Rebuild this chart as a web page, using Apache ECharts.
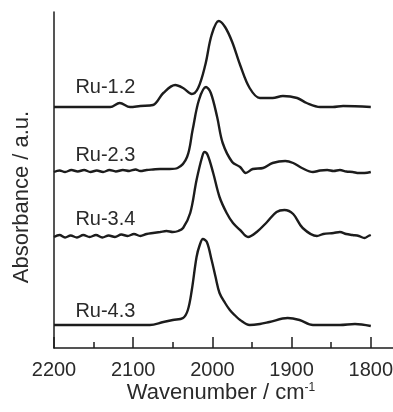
<!DOCTYPE html>
<html>
<head>
<meta charset="utf-8">
<script src="https://cdn.jsdelivr.net/npm/echarts@6/dist/echarts.min.js"></script>
<style>
  html, body { margin: 0; padding: 0; background: #fff; }
  #chart { width: 393px; height: 412px; }
</style>
</head>
<body>
<div id="chart"></div>
<script>
// spectra: [wavenumber, absorbance (a.u., stacked)]
const ru12 = [
  [2200, 241], [2155, 241], [2129, 241], [2117, 245], [2104, 241], [2091, 242],
  [2075, 243], [2062, 255], [2047, 263], [2037, 260], [2026, 254], [2018, 260],
  [2009, 283], [2001, 313], [1992, 327], [1984, 321], [1975, 306], [1965, 283],
  [1953, 260], [1940, 250], [1924, 250], [1911, 252], [1893, 250], [1881, 245],
  [1864, 241], [1848, 241], [1835, 242], [1800, 241]
];
const ru23 = [
  [2200, 176], [2193, 177.5], [2186, 176], [2178, 178], [2170, 176.5], [2162, 178],
  [2154, 176], [2146, 177.5], [2138, 176], [2130, 178], [2122, 176.5], [2113, 178],
  [2105, 177], [2097, 178.5], [2091, 177], [2083, 178], [2075, 178.5], [2066, 179],
  [2054, 179], [2044, 180], [2032, 191], [2025, 218], [2017, 248], [2008, 261],
  [2002, 255], [1994, 231], [1987, 205], [1975, 186], [1965, 181], [1958, 175],
  [1949, 179], [1936, 180], [1924, 185], [1908, 187], [1898, 185], [1887, 180],
  [1873, 176], [1864, 177.5], [1855, 178], [1847, 177], [1839, 178], [1831, 176.5],
  [1823, 176], [1815, 175], [1808, 175], [1800, 176]
];
const ru34 = [
  [2200, 111], [2193, 113], [2186, 110.5], [2179, 112.5], [2171, 110.5], [2163, 113],
  [2155, 111], [2147, 113], [2139, 110.5], [2131, 112.5], [2123, 111], [2115, 113.5],
  [2107, 112], [2099, 114], [2091, 112], [2083, 114], [2075, 115], [2066, 116],
  [2058, 117], [2050, 116], [2043, 117], [2037, 120], [2028, 135], [2020, 168],
  [2013, 191], [2010, 196], [2006, 193], [1999, 175], [1991, 151], [1982, 135],
  [1974, 125], [1965, 118], [1955, 111], [1944, 116], [1931, 126], [1919, 136],
  [1909, 138], [1898, 134], [1886, 120], [1868, 112], [1860, 114], [1847, 115],
  [1839, 116], [1831, 114], [1823, 113], [1815, 112], [1808, 110], [1803, 112],
  [1800, 113]
];
const ru43 = [
  [2200, 23], [2150, 23], [2079, 23], [2062, 26], [2050, 28], [2037, 30],
  [2031, 38], [2026, 58], [2020, 91], [2016, 103], [2012, 109], [2007, 106],
  [2001, 88], [1996, 71], [1991, 55], [1984, 45], [1978, 38], [1972, 33],
  [1965, 28], [1953, 23], [1940, 24], [1928, 26], [1905, 30], [1890, 28],
  [1873, 23], [1839, 23], [1820, 24], [1800, 22]
];
const seriesNames = ['Ru-1.2', 'Ru-2.3', 'Ru-3.4', 'Ru-4.3'];
const seriesData = [ru12, ru23, ru34, ru43];
// where each sample name sits: [wavenumber, absorbance]
const labelPos = [[2173, 261], [2173, 193], [2173, 129], [2173, 37]];
const xTicks = [2200, 2100, 2000, 1900, 1800];

const font = '"Liberation Sans", Arial, Helvetica, sans-serif';
const ink = '#1c1c1c';

const chart = echarts.init(document.getElementById('chart'), null, {renderer: 'canvas'});

const series = seriesData.map((d, i) => ({
  name: seriesNames[i],
  type: 'line',
  data: d,
  smooth: 0.35,
  symbol: 'none',
  lineStyle: {color: ink, width: 2.4},
  markPoint: {
    symbol: 'circle',
    symbolSize: 0,
    silent: true,
    label: {
      show: true,
      position: 'right',
      distance: 0,
      formatter: seriesNames[i],
      color: '#2a2a2a',
      fontSize: 20,
      fontFamily: font
    },
    data: [{coord: labelPos[i]}]
  }
}));

chart.setOption({
  animation: false,
  backgroundColor: '#fff',
  // the axis runs on past 1800 to the right edge
  grid: {left: 54, top: 12, height: 336, width: 396, outerBoundsMode: 'none', containLabel: false},
  xAxis: {
    type: 'value',
    inverse: true,
    min: 1700,
    max: 2200,
    interval: 100,
    axisLine: {lineStyle: {color: ink, width: 1.5}},
    axisTick: {inside: true, length: 11, lineStyle: {color: ink, width: 1.5}},
    minorTick: {show: true, splitNumber: 2, length: 6, lineStyle: {color: ink, width: 1.5}},
    splitLine: {show: false},
    axisLabel: {
      color: '#2a2a2a',
      fontSize: 20,
      fontFamily: font,
      margin: 12,
      formatter: v => xTicks.indexOf(v) >= 0 ? String(v) : ''
    }
  },
  yAxis: {
    type: 'value',
    min: 0,
    max: 336,
    axisLine: {show: true, lineStyle: {color: ink, width: 1.5}},
    axisTick: {show: false},
    axisLabel: {show: false},
    splitLine: {show: false}
  },
  graphic: [
    {
      type: 'text',
      x: 221,
      y: 393,
      style: {
        text: '{a|Wavenumber / cm}{s|-1}',
        align: 'center',
        verticalAlign: 'middle',
        fill: '#2a2a2a',
        rich: {
          a: {fontSize: 22, fontFamily: font, fill: '#2a2a2a'},
          s: {fontSize: 12, fontFamily: font, fill: '#2a2a2a', verticalAlign: 'top', padding: [0, 0, 10, 0]}
        }
      }
    },
    {
      type: 'text',
      x: 22,
      y: 197,
      rotation: Math.PI / 2,
      style: {
        text: 'Absorbance / a.u.',
        align: 'center',
        verticalAlign: 'middle',
        fill: '#2a2a2a',
        fontSize: 22,
        fontFamily: font
      }
    }
  ],
  series: series
});
</script>
</body>
</html>
